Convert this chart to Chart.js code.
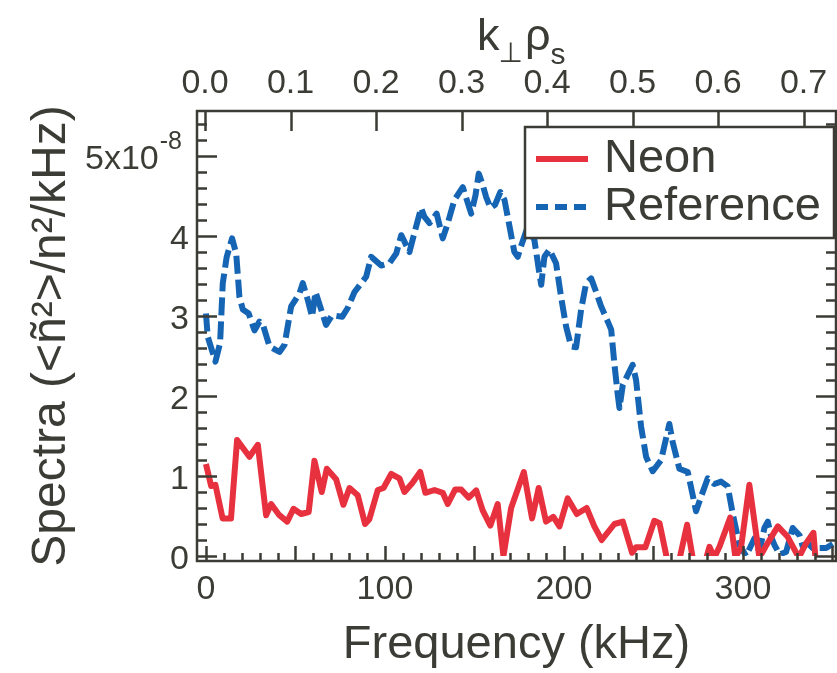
<!DOCTYPE html>
<html>
<head>
<meta charset="utf-8">
<title>Spectra</title>
<script src="https://cdn.jsdelivr.net/npm/chart.js@4.4.1/dist/chart.umd.min.js"></script>
<style>
  html, body { margin: 0; padding: 0; background: #fff; }
  #wrap { width: 837px; height: 673px; }
</style>
</head>
<body>
<div id="wrap"><canvas id="spectraChart"></canvas></div>
<script>
// =========================
// DATA (spectra in units of 1e-8 per kHz)
// =========================
const neonFreq = [0, 2.9, 5.3, 9.3, 14, 17.4, 24.3, 29, 33.6, 36.4, 41, 45.4, 48.9, 53.2, 57.4, 60.6,
  64.7, 67.5, 72.7, 76.8, 80.2, 84.8, 88.9, 91.3, 96, 99.2, 103.5, 108.1, 110.9, 115.2, 119.7, 122.6,
  127.7, 132.3, 135.1, 139.2, 142.6, 146.8, 151, 154.6, 158.9, 163, 166.2, 170.5, 177.6, 182.2, 185.9,
  190, 194.1, 197.5, 202.1, 207.2, 212.7, 217, 221.1, 228.2, 232.9, 238.1, 240.3, 245.5, 250.5, 253.4,
  261, 268.8, 274.8, 281.3, 284, 286.9, 292.9, 295.8, 299, 303.6, 309.2, 312.6, 319.5, 325, 331.2,
  335.3, 339.4, 340.5];
const neonSpec = [1.15, 0.875, 0.89, 0.47, 0.47, 1.45, 1.24, 1.39, 0.51, 0.65, 0.51, 0.43, 0.59, 0.525, 0.55, 1.19,
  0.80, 1.09, 0.96, 0.64, 0.85, 0.76, 0.40, 0.46, 0.825, 0.85, 1.025, 0.97, 0.80, 0.91, 1.05, 0.79,
  0.825, 0.79, 0.65, 0.83, 0.83, 0.73, 0.82, 0.57, 0.38, 0.65, 0.0, 0.60, 1.05, 0.47, 0.85,
  0.43, 0.49, 0.37, 0.72, 0.525, 0.60, 0.37, 0.20, 0.40, 0.43, 0.04, 0.11, 0.11, 0.44, 0.41,
  -0.4, 0.39, -0.4, 0.115, -0.02, 0.115, 0.48, -0.02, 0.115, 0.89, -0.02, 0.115, 0.37, 0.24, -0.02,
  0.16, 0.29, -0.02];

const refFreq = [0, 1, 5.3, 7.9, 9.4, 11.6, 14.6, 16.9, 18.7, 20.6, 23.9, 27.1, 29.9, 32.1, 35.5, 41.1,
  43.9, 47.6, 52.2, 54.1, 56.9, 59.3, 61.2, 63.8, 67.1, 70.5, 76.1, 79.2, 83, 89.5, 92.3, 97.9,
  102.5, 106.3, 109.1, 110.9, 113.7, 115.9, 120.2, 122.1, 124.9, 128.9, 132.3, 135.1, 138.8, 143.5,
  148.2, 150.6, 152.4, 154.6, 156.5, 159, 161.5, 164.5, 166.8, 169.6, 172.3, 174.2, 176, 179.5, 183.5,
  186.3, 187.3, 189.1, 191.9, 195.6, 198.4, 201.2, 204, 206.8, 209.6, 212.4, 215.2, 218, 220.8, 224.5,
  226.4, 228.2, 230, 231, 232.9, 238.4, 240.3, 243.1, 245.9, 249.6, 254.3, 258.9, 260.8, 264.5, 269.2,
  272.9, 273.8, 276.6, 280.3, 284, 287.8, 291.5, 294.3, 296.2, 298, 301.8, 306.4, 309.2, 312, 313.9,
  315.8, 317.6, 320.4, 324.1, 327.8, 331.6, 333.4, 336.2, 339, 341.8, 346.5, 350.2];
const refSpec = [3.03, 2.74, 2.43, 2.66, 3.41, 3.74, 3.97, 3.78, 3.24, 3.08, 3.03, 2.82, 2.93, 2.87, 2.62, 2.55,
  2.64, 3.12, 3.28, 3.41, 3.2, 2.99, 3.30, 3.12, 2.89, 3.01, 2.99, 3.10, 3.30, 3.49, 3.74, 3.63,
  3.66, 3.78, 4.01, 3.93, 3.80, 3.99, 4.35, 4.24, 4.16, 4.28, 3.97, 4.16, 4.45, 4.61,
  4.28, 4.51, 4.78, 4.64, 4.49, 4.35, 4.39, 4.55, 4.45, 4.12, 3.80, 3.74, 3.87, 4.1, 3.95,
  3.53, 3.39, 3.74, 3.83, 3.66, 3.24, 2.87, 2.62, 2.61, 3.08, 3.41, 3.47, 3.30, 3.12, 2.93,
  2.83, 2.40, 2.03, 1.85, 2.14, 2.39, 2.2, 1.62, 1.24, 1.06, 1.2, 1.65, 1.42, 1.09, 1.05,
  0.66, 0.56, 0.74, 0.97, 0.9, 0.93, 0.87, 0.53, 0.33, 0.14, 0.0, 0.22, 0.05, 0.35, 0.43,
  0.24, 0.14, 0.02, 0.05, 0.35, 0.26, 0.12, 0.16, 0.10, 0.10, 0.10, 0.15];

// axis ticks and labels
const freqTicks = [0, 100, 200, 300];
const freqTickLabels = ['0', '100', '200', '300'];
const kTicks = [0, 0.1, 0.2, 0.3, 0.4, 0.5, 0.6, 0.7];
const kTickLabels = ['0.0', '0.1', '0.2', '0.3', '0.4', '0.5', '0.6', '0.7'];
const specTicks = [0, 1, 2, 3, 4, 5];
const specTickLabels = ['0', '1', '2', '3', '4', '5x10'];
const specTickExp = ['', '', '', '', '', '-8'];

// =========================
// STYLE
// =========================
const INK = '#3c3c36';
const RED = '#e8313f';
const BLUE = '#1565b4';
const FONT = "'Liberation Sans', Arial, sans-serif";
Chart.defaults.font.family = FONT;
Chart.defaults.color = INK;

// =========================
// FRAME, TICKS, LABELS, LEGEND
// =========================
function drawText(ctx, text, x, y, size, align) {
  ctx.font = size + "px 'Liberation Sans', 'DejaVu Sans', sans-serif";
  ctx.textAlign = align || 'left';
  ctx.fillText(text, x, y);
  return ctx.measureText(text).width;
}

const framePlugin = {
  id: 'frame',
  afterDatasetsDraw(chart) {
    const ctx = chart.ctx;
    const { left, right, top, bottom } = chart.chartArea;
    const xs = chart.scales.x, ks = chart.scales.x2, ys = chart.scales.y;

    ctx.save();
    ctx.strokeStyle = INK;
    ctx.fillStyle = INK;
    ctx.lineWidth = 2.5;
    ctx.setLineDash([]);
    ctx.strokeRect(left, top, right - left, bottom - top);

    ctx.beginPath();
    // left & right: every 0.2, major on integers
    for (let i = 0; i <= 27; i++) {
      const v = i * 0.2;
      const y = Math.round(ys.getPixelForValue(v)) + 0.5;
      const len = i % 5 === 0 ? 20 : 10;
      ctx.moveTo(left, y); ctx.lineTo(left + len, y);
      ctx.moveTo(right, y); ctx.lineTo(right - len, y);
    }
    // bottom: every 10 kHz, major every 50
    for (let f = 0; f <= 350; f += 10) {
      const x = Math.round(xs.getPixelForValue(f)) + 0.5;
      const len = f % 50 === 0 ? 15 : 8;
      ctx.moveTo(x, bottom); ctx.lineTo(x, bottom - len);
    }
    // top: k rho ticks
    kTicks.forEach(k => {
      const x = Math.round(ks.getPixelForValue(k)) + 0.5;
      ctx.moveTo(x, top); ctx.lineTo(x, top + 20);
    });
    ctx.stroke();

    // y tick labels
    ctx.textBaseline = 'alphabetic';
    specTicks.forEach((v, i) => {
      const y = ys.getPixelForValue(v) + 12.5;
      if (specTickExp[i]) {
        ctx.font = "25px " + FONT;
        const w = ctx.measureText(specTickExp[i]).width;
        drawText(ctx, specTickExp[i], 182 - w, y - 20, 25, 'left');
        drawText(ctx, specTickLabels[i], 181 - w, y, 34, 'right');
      } else {
        drawText(ctx, specTickLabels[i], 189, y, 34, 'right');
      }
    });

    // top axis title k_perp rho_s
    let x = 477;
    x += drawText(ctx, 'k', x, 50, 45);
    x += drawText(ctx, '\u22A5', x - 1, 62, 28) + 1;
    x += drawText(ctx, '\u03C1', x, 50, 45);
    drawText(ctx, 's', x, 64, 30);

    // legend
    const bx = 525, by = 127, bw = 309, bh = 111;
    ctx.fillStyle = '#fff';
    ctx.fillRect(bx, by, bw, bh);
    ctx.lineWidth = 2.5;
    ctx.strokeRect(bx, by, bw, bh);
    const rows = [159, 207];
    chart.data.datasets.forEach((ds, i) => {
      ctx.beginPath();
      ctx.strokeStyle = ds.borderColor;
      ctx.lineWidth = 6;
      ctx.setLineDash(ds.borderDash ? [12, 7] : []);
      ctx.moveTo(536, rows[i]); ctx.lineTo(588, rows[i]);
      ctx.stroke();
      ctx.fillStyle = INK;
      drawText(ctx, ds.label, 604, rows[i] + 13, 47);
    });
    ctx.restore();
  }
};

// =========================
// RENDER CHART
// =========================
function toPoints(xs, ys) {
  return xs.map((x, i) => ({ x: x, y: ys[i] }));
}

const dataClip = { left: 10, top: 10, right: 3, bottom: -5 };

new Chart(document.getElementById('spectraChart'), {
  type: 'line',
  data: {
    datasets: [{
      label: 'Neon',
      data: toPoints(neonFreq, neonSpec),
      borderColor: RED,
      borderWidth: 6,
      pointRadius: 0,
      borderJoinStyle: 'round',
      clip: dataClip
    }, {
      label: 'Reference',
      data: toPoints(refFreq, refSpec),
      borderColor: BLUE,
      borderWidth: 6,
      borderDash: [18, 6],
      pointRadius: 0,
      borderJoinStyle: 'round',
      clip: dataClip
    }]
  },
  options: {
    responsive: true,
    maintainAspectRatio: false,
    animation: false,
    events: [],
    layout: { padding: { left: 0, right: 1, top: 0, bottom: 0 } },
    plugins: { legend: { display: false }, tooltip: { enabled: false } },
    scales: {
      x: {
        type: 'linear',
        position: 'bottom',
        min: -5.0,
        max: 352.0,
        afterBuildTicks: s => { s.ticks = freqTicks.map(v => ({ value: v })); },
        afterFit: s => { s.height = 112; },
        grid: { display: false, drawTicks: false },
        border: { display: false },
        ticks: {
          font: { size: 34 }, color: INK, padding: 8, maxRotation: 0, autoSkip: false,
          callback: (v, i) => freqTickLabels[i]
        },
        title: { display: true, text: 'Frequency (kHz)', font: { size: 47 }, color: INK, padding: { top: 0, bottom: 0 } }
      },
      x2: {
        type: 'linear',
        position: 'top',
        min: -0.0094,
        max: 0.738,
        afterBuildTicks: s => { s.ticks = kTicks.map(v => ({ value: v })); },
        afterFit: s => { s.height = 111; },
        grid: { display: false, drawTicks: false },
        border: { display: false },
        ticks: {
          font: { size: 34 }, color: INK, padding: 7, maxRotation: 0, autoSkip: false,
          callback: (v, i) => kTickLabels[i]
        }
      },
      y: {
        type: 'linear',
        position: 'left',
        min: -0.0625,
        max: 5.5625,
        afterFit: s => { s.width = 197; },
        grid: { display: false, drawTicks: false },
        border: { display: false },
        ticks: { display: false },
        title: {
          display: true, text: 'Spectra (<\u00F1\u00B2>/n\u00B2/kHz)', font: { size: 48 }, color: INK,
          padding: { top: 23, bottom: 0 }
        }
      }
    }
  },
  plugins: [framePlugin]
});
</script>
</body>
</html>
